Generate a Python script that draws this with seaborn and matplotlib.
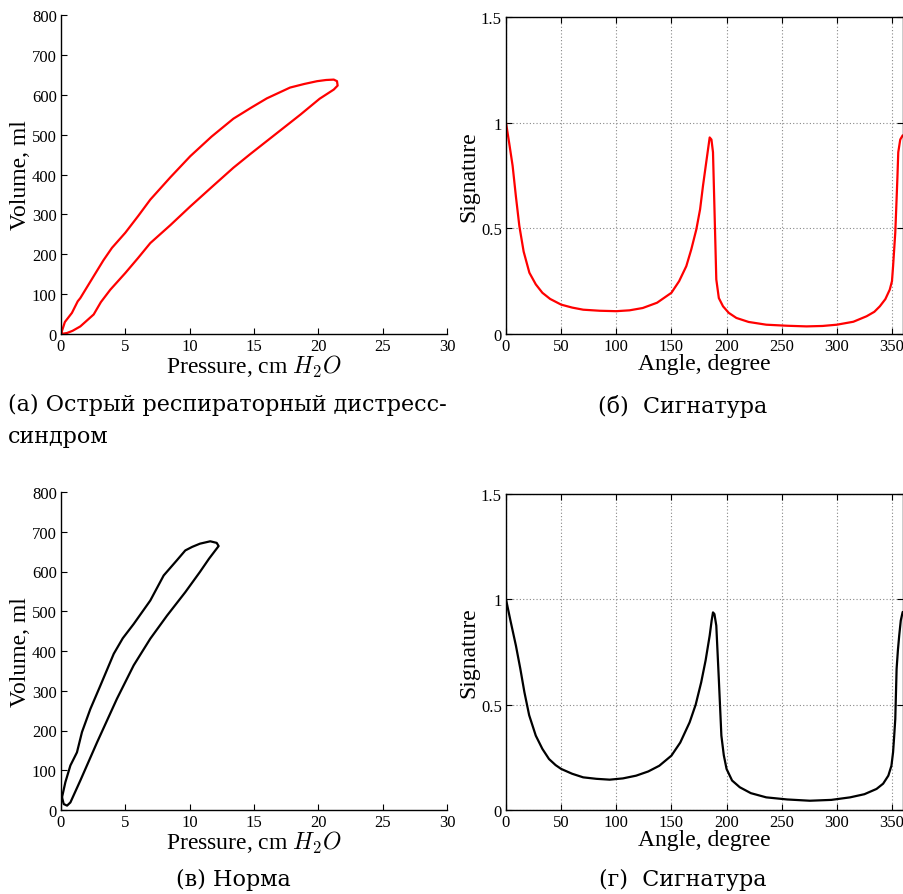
import matplotlib
matplotlib.use("Agg")
import matplotlib.pyplot as plt
import seaborn as sns
import pandas as pd
from matplotlib.ticker import FuncFormatter

# ---- data ----
# (a) ARDS pressure-volume loop
ards_pressure = [0.0, 0.3, 0.85, 1.3, 1.5, 2.54, 3.3, 3.96, 5.0, 6.0, 6.94, 8.5, 10.05, 11.7, 13.4, 14.8,
                 16.0, 17.0, 17.8, 18.9, 19.9, 20.6, 21.2, 21.45, 21.5, 21.2, 20.1, 18.6, 17.3, 16.0,
                 14.7, 13.4, 11.7, 10.05, 8.5, 6.94, 6.0, 5.0, 3.83, 3.1, 2.54, 1.5, 0.9, 0.47, 0.0]
ards_volume = [0, 30, 53, 82, 90, 145, 185, 216, 254, 296, 337, 393, 446, 495, 540, 568,
               591, 606, 618, 627, 634, 637, 638, 634, 623, 613, 590, 550, 517, 484,
               451, 417, 368, 320, 273, 228, 191, 153, 111, 80, 49, 19, 8, 2.5, 0]

# (b) ARDS signature
ards_angle = [0, 3, 6, 9, 12.1, 16, 21.2, 27, 33, 40, 50, 60, 70, 85, 100, 112, 124, 137, 150, 157,
              163.5, 168, 172.6, 176, 178.6, 181.5, 184.7, 186.3, 187.7, 189, 190.7, 193, 196.8, 202,
              208.9, 220, 236, 255, 272.5, 287, 300, 315, 327, 334, 339, 344, 348, 350, 351, 352, 353,
              354.2, 355, 355.7, 357.5, 359.7]
ards_signature = [1.0, 0.90, 0.796, 0.65, 0.511, 0.39, 0.29, 0.235, 0.195, 0.166, 0.139, 0.125, 0.115, 0.110,
                  0.108, 0.112, 0.123, 0.148, 0.195, 0.25, 0.321, 0.40, 0.495, 0.59, 0.70, 0.81, 0.93, 0.92,
                  0.86, 0.60, 0.258, 0.17, 0.131, 0.10, 0.076, 0.057, 0.044, 0.039, 0.036, 0.038, 0.044,
                  0.058, 0.084, 0.105, 0.131, 0.165, 0.21, 0.25, 0.32, 0.40, 0.48, 0.64, 0.75, 0.86,
                  0.92, 0.94]

# (v) Normal pressure-volume loop
norm_pressure = [0.08, 0.34, 0.73, 1.24, 1.63, 2.28, 3.06, 4.1, 4.8, 5.65, 6.94, 7.98, 9.0, 9.66, 10.2,
                 10.8, 11.6, 12.1, 12.25, 11.5, 10.8, 9.66, 8.24, 6.94, 5.65, 4.35, 2.8, 1.5, 0.73, 0.47,
                 0.21, 0.08]
norm_volume = [32, 70, 112, 145, 196, 254, 313, 393, 432, 468, 527, 590, 628, 653, 662,
               670, 676, 672, 664, 632, 599, 548, 489, 431, 364, 280, 170, 74, 19, 11,
               15, 32]

# (g) Normal signature
norm_angle = [0, 4, 9, 13, 16.7, 21, 27, 33, 39, 45, 50, 60, 70, 82, 94, 106, 118, 129, 139, 150, 158,
              166.5, 172, 177, 181, 184.7, 186.5, 187.7, 189, 190.7, 193, 195.3, 197.5, 200, 205, 212,
              222, 236, 255, 275.5, 295, 312, 325, 336, 342, 346.7, 349.5, 351, 352, 353, 354.2,
              355.4, 356.6, 358, 359.7]
norm_signature = [1.0, 0.90, 0.78, 0.67, 0.559, 0.45, 0.353, 0.29, 0.242, 0.213, 0.195, 0.172, 0.155, 0.148,
                  0.144, 0.150, 0.163, 0.183, 0.21, 0.258, 0.32, 0.416, 0.50, 0.606, 0.71, 0.828, 0.90,
                  0.938, 0.93, 0.875, 0.62, 0.353, 0.26, 0.195, 0.14, 0.108, 0.08, 0.06, 0.05, 0.044,
                  0.048, 0.06, 0.075, 0.1, 0.125, 0.163, 0.21, 0.274, 0.35, 0.432, 0.67, 0.76, 0.83,
                  0.90, 0.94]

captions = ["(а) Острый респираторный дистресс-\nсиндром", "(б)  Сигнатура", "(в) Норма", "(г)  Сигнатура"]

# ---- style ----
sns.set_theme(style="ticks")
plt.rcParams["font.family"] = ["Liberation Serif", "DejaVu Serif"]
plt.rcParams["mathtext.fontset"] = "cm"
plt.rcParams["text.color"] = "black"
plt.rcParams["axes.labelcolor"] = "black"

fig = plt.figure(figsize=(9.04, 8.95), dpi=100)
W, H = 904.0, 895.0


def axes_px(left, top, right, bottom):
    return fig.add_axes([left / W, 1 - bottom / H, (right - left) / W, (bottom - top) / H])


ax_a = axes_px(61, 16, 447, 335)
ax_b = axes_px(506, 18, 903, 335)
ax_c = axes_px(61, 493, 447, 811)
ax_d = axes_px(506, 495, 903, 811)

tick_fs = 12
label_fs = 17


def style_pv(ax, p, v, color):
    df = pd.DataFrame({"p": p, "v": v})
    sns.lineplot(data=df, x="p", y="v", sort=False, estimator=None, color=color, lw=1.6, ax=ax)
    ax.set_xlim(0, 30)
    ax.set_ylim(0, 800)
    ax.set_xticks(range(0, 31, 5))
    ax.set_yticks(range(0, 801, 100))
    for s in ["top", "right"]:
        ax.spines[s].set_visible(False)
    for s in ["left", "bottom"]:
        ax.spines[s].set_color("black")
        ax.spines[s].set_linewidth(1.0)
    ax.tick_params(direction="in", length=4, width=0.8, labelsize=tick_fs, colors="black", pad=3)
    ax.set_xlabel("Pressure, cm $H_2O$", fontsize=label_fs, labelpad=-1)
    ax.set_ylabel("Volume, ml", fontsize=label_fs, labelpad=1)


def fmt(x, pos):
    return ("%g" % x)


def style_sig(ax, a, s, color):
    df = pd.DataFrame({"a": a, "s": s})
    sns.lineplot(data=df, x="a", y="s", sort=False, estimator=None, color=color, lw=1.6, ax=ax)
    ax.set_xlim(0, 360)
    ax.set_ylim(0, 1.5)
    ax.set_xticks(range(0, 351, 50))
    ax.set_yticks([0, 0.5, 1, 1.5])
    ax.yaxis.set_major_formatter(FuncFormatter(fmt))
    for sp in ax.spines.values():
        sp.set_visible(True)
        sp.set_color("black")
        sp.set_linewidth(1.0)
    ax.grid(True, linestyle=(0, (1, 2)), color="#888888", lw=0.8)
    ax.tick_params(direction="in", length=4, width=0.8, labelsize=tick_fs, colors="black",
                   top=True, right=True, pad=3)
    ax.set_xlabel("Angle, degree", fontsize=label_fs, labelpad=-1)
    ax.set_ylabel("Signature", fontsize=label_fs, labelpad=1)


style_pv(ax_a, ards_pressure, ards_volume, "#ff0000")
style_sig(ax_b, ards_angle, ards_signature, "#ff0000")
style_pv(ax_c, norm_pressure, norm_volume, "black")
style_sig(ax_d, norm_angle, norm_signature, "black")

cap_fs = 16
cap_font = ["DejaVu Serif"]
fig.text(8 / W, 1 - 394 / H, captions[0], fontsize=cap_fs, family=cap_font, ha="left", va="top",
         linespacing=1.6, color="black")
fig.text(683 / W, 1 - 406 / H, captions[1], fontsize=cap_fs, family=cap_font, ha="center", va="center",
         color="black")
fig.text(233 / W, 1 - 880 / H, captions[2], fontsize=cap_fs, family=cap_font, ha="center", va="center",
         color="black")
fig.text(683 / W, 1 - 880 / H, captions[3], fontsize=cap_fs, family=cap_font, ha="center", va="center",
         color="black")

fig.savefig("out.png", dpi=100)
